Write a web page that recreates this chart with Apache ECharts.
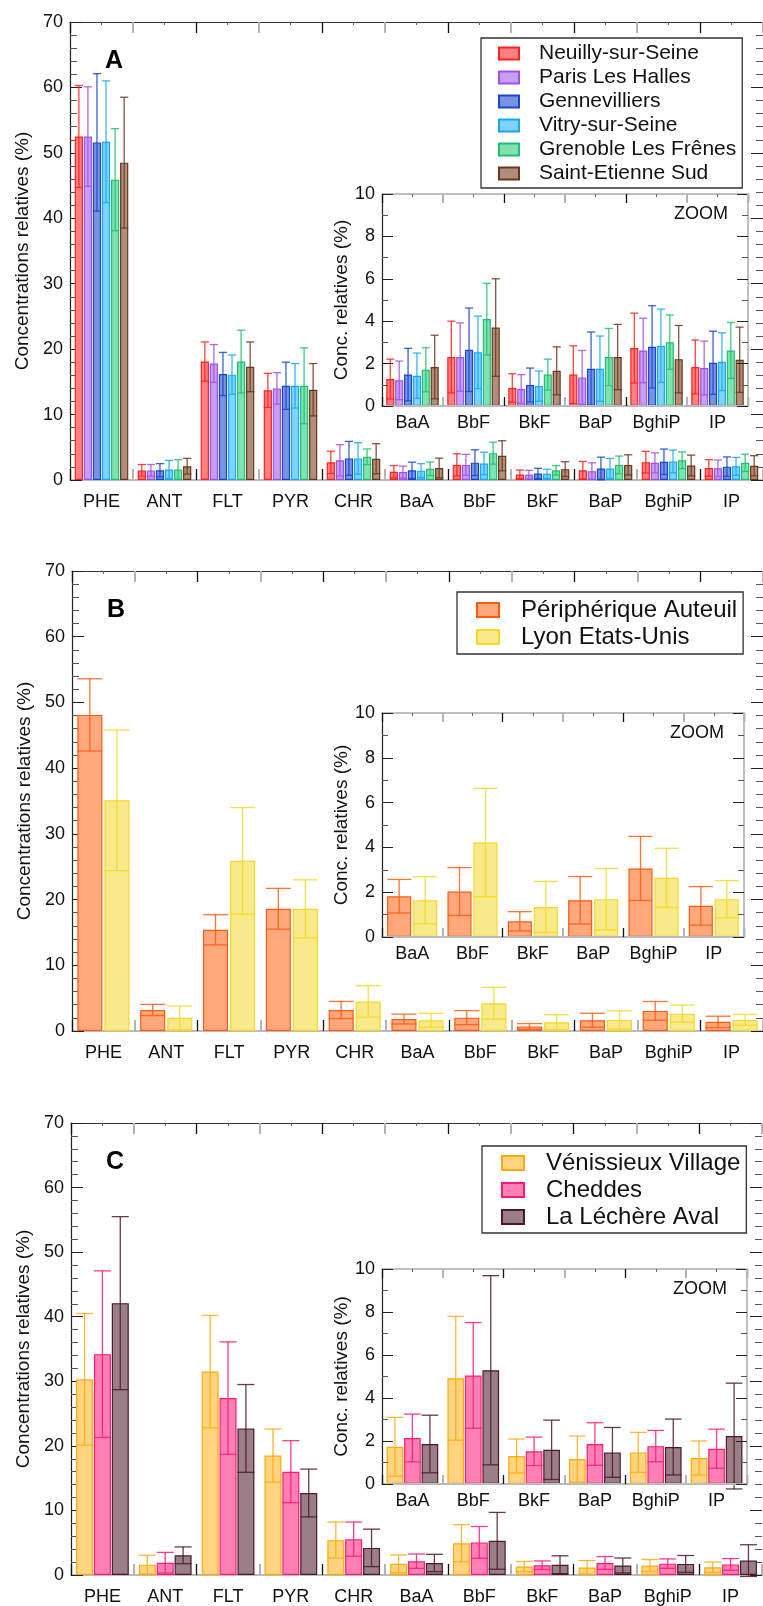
<!DOCTYPE html>
<html>
<head>
<meta charset="utf-8">
<script src="https://cdn.jsdelivr.net/npm/echarts@6/dist/echarts.min.js"></script>
<style>
  html, body { margin: 0; padding: 0; background: #fff; }
  #chart { width: 763px; height: 1606px; }
</style>
</head>
<body>
<div id="chart"></div>
<script>
// PAH profiles, relative concentrations (%) : mean and standard deviation per site
const categories = ["PHE", "ANT", "FLT", "PYR", "CHR", "BaA", "BbF", "BkF", "BaP", "BghiP", "IP"];
const zoomCategories = categories.slice(5);
const yTicksMain = [0, 10, 20, 30, 40, 50, 60, 70];
const yTicksZoom = [0, 2, 4, 6, 8, 10];

// panel A
const neuillyMean = [52.5, 1.47, 18.1, 13.7, 2.7, 1.27, 2.31, 0.85, 1.48, 2.73, 1.84];
const neuillyErr = [7.8, 0.9, 3.0, 2.6, 1.7, 0.94, 1.69, 0.67, 1.36, 1.65, 1.27];
const parisMean = [52.5, 1.47, 17.8, 14.0, 3.0, 1.21, 2.31, 0.80, 1.35, 2.62, 1.79];
const parisErr = [7.6, 0.9, 2.9, 2.4, 2.4, 0.91, 1.61, 0.68, 1.27, 1.52, 1.27];
const gennevilliersMean = [51.6, 1.5, 16.2, 14.4, 3.3, 1.48, 2.65, 0.99, 1.76, 2.79, 2.04];
const gennevilliersErr = [10.5, 1.0, 3.3, 3.6, 2.6, 1.24, 1.97, 0.80, 1.73, 1.94, 1.49];
const vitryMean = [51.7, 1.6, 16.1, 14.4, 3.3, 1.43, 2.53, 0.94, 1.76, 2.84, 2.09];
const vitryErr = [9.3, 1.4, 3.0, 3.4, 2.4, 1.07, 1.71, 0.71, 1.54, 1.73, 1.36];
const grenobleMean = [45.9, 1.6, 18.1, 14.4, 3.55, 1.71, 4.1, 1.48, 2.31, 3.01, 2.62];
const grenobleErr = [7.8, 1.5, 4.8, 5.8, 1.2, 1.04, 1.69, 0.73, 1.35, 1.28, 1.32];
const stEtienneMean = [48.5, 2.1, 17.3, 13.8, 3.25, 1.84, 3.7, 1.66, 2.31, 2.21, 2.18];
const stEtienneErr = [10.0, 1.2, 3.8, 4.0, 2.3, 1.5, 2.3, 1.13, 1.54, 1.59, 1.54];

// panel B
const auteuilMean = [48.1, 3.2, 15.4, 18.6, 3.2, 1.82, 2.03, 0.70, 1.64, 3.06, 1.39];
const auteuilErr = [5.5, 0.85, 2.3, 3.1, 1.3, 0.75, 1.07, 0.43, 1.06, 1.43, 0.86];
const lyonMean = [35.1, 2.0, 25.9, 18.6, 4.5, 1.64, 4.22, 1.34, 1.69, 2.64, 1.69];
const lyonErr = [10.7, 1.8, 8.1, 4.4, 2.4, 1.05, 2.42, 1.14, 1.37, 1.32, 0.83];

// panel C
const venissieuxMean = [30.3, 1.6, 31.5, 18.5, 5.4, 1.73, 4.92, 1.30, 1.16, 1.47, 1.21];
const venissieuxErr = [10.2, 1.45, 8.7, 4.1, 2.8, 1.37, 2.88, 0.79, 1.07, 0.93, 0.79];
const cheddesMean = [34.2, 1.9, 27.4, 16.0, 5.55, 2.14, 5.05, 1.52, 1.86, 1.76, 1.64];
const cheddesErr = [12.9, 1.6, 8.7, 4.8, 2.65, 1.11, 2.46, 0.66, 0.99, 0.73, 0.91];
const lechereMean = [42.1, 3.05, 22.7, 12.7, 4.2, 1.86, 5.29, 1.59, 1.47, 1.72, 2.23];
const lechereErr = [13.4, 1.3, 6.8, 3.7, 2.9, 1.34, 4.4, 1.38, 1.16, 1.3, 2.46];

const FONT = "Liberation Sans";

const panels = [
  {
    letter: "A",
    main: { left: 70, top: 22, width: 693, height: 458, catGap: 0.15, barGap: 0.1 },
    zoom: { left: 382, top: 194, width: 366, height: 212, catGap: 0.14, barGap: 0.1 },
    legend: { left: 481, top: 38, padding: [5, 6, 4, 17], itemWidth: 20, itemHeight: 12, fontSize: 21, itemGap: 3, textPad: 15 },
    sites: [
      { name: "Neuilly-sur-Seine", mean: neuillyMean, err: neuillyErr, fill: "#ff8080", line: "#ff2020" },
      { name: "Paris Les Halles", mean: parisMean, err: parisErr, fill: "#c69ff0", line: "#a050ea" },
      { name: "Gennevilliers", mean: gennevilliersMean, err: gennevilliersErr, fill: "#7894de", line: "#1a44d0" },
      { name: "Vitry-sur-Seine", mean: vitryMean, err: vitryErr, fill: "#80d2ff", line: "#18a8f2" },
      { name: "Grenoble Les Frênes", mean: grenobleMean, err: grenobleErr, fill: "#80e2b2", line: "#1ec070" },
      { name: "Saint-Etienne Sud", mean: stEtienneMean, err: stEtienneErr, fill: "#b08e7c", line: "#6a361c" }
    ]
  },
  {
    letter: "B",
    main: { left: 72, top: 571, width: 691, height: 460, catGap: 0.17, barGap: 0.08 },
    zoom: { left: 382, top: 713, width: 362, height: 224, catGap: 0.17, barGap: 0.08 },
    legend: { left: 457, top: 592, padding: [6, 6, 5, 19], itemWidth: 22, itemHeight: 14, fontSize: 24, itemGap: 3, textPad: 17 },
    sites: [
      { name: "Périphérique Auteuil", mean: auteuilMean, err: auteuilErr, fill: "#ffa87c", line: "#ff5a10" },
      { name: "Lyon Etats-Unis", mean: lyonMean, err: lyonErr, fill: "#f8e98a", line: "#f8d820" }
    ]
  },
  {
    letter: "C",
    main: { left: 71, top: 1123, width: 691, height: 459, catGap: 0.16, barGap: 0.05 },
    zoom: { left: 382, top: 1269, width: 365, height: 215, catGap: 0.15, barGap: 0.05 },
    legend: { left: 482, top: 1146, padding: [5, 6, 4, 19], itemWidth: 22, itemHeight: 14, fontSize: 24, itemGap: 3, textPad: 17 },
    sites: [
      { name: "Vénissieux Village", mean: venissieuxMean, err: venissieuxErr, fill: "#ffd47e", line: "#ffaa10" },
      { name: "Cheddes", mean: cheddesMean, err: cheddesErr, fill: "#ff80b4", line: "#ff1a78" },
      { name: "La Léchère Aval", mean: lechereMean, err: lechereErr, fill: "#9a7e88", line: "#4a1a2a" }
    ]
  }
];

const grids = [], xAxes = [], yAxes = [], series = [], legends = [], graphics = [];

function addGrid(g, cats, isZoom, ticks) {
  const gi = grids.length;
  grids.push({ left: g.left, top: g.top, width: g.width, height: g.height, show: isZoom, backgroundColor: "#fff", borderWidth: 0, z: isZoom ? 5 : 0 });
  const tickLen = isZoom ? 9 : 11;
  const axisZ = isZoom ? 8 : 0;
  const base = { type: "category", gridIndex: gi, data: cats, boundaryGap: true, z: axisZ };
  const bottomIndex = xAxes.length;
  // bottom axis: labels, black ticks on even boundaries
  xAxes.push(Object.assign({}, base, {
    position: "bottom",
    axisLine: { show: true, lineStyle: { color: "#bbb", width: 2 } },
    axisTick: { show: true, inside: true, length: tickLen, interval: (i) => i % 2 === 0, lineStyle: { color: "#111", width: 1.3 } },
    axisLabel: { show: true, margin: isZoom ? 8 : 13, fontSize: 18, color: "#111", fontFamily: FONT, interval: 0 }
  }));
  // bottom axis: gray ticks on odd boundaries
  xAxes.push(Object.assign({}, base, {
    position: "bottom",
    axisLine: { show: false },
    axisTick: { show: true, inside: true, length: tickLen, interval: (i) => i % 2 === 1, lineStyle: { color: "#b4b4b4", width: 2 } },
    axisLabel: { show: false }
  }));
  // top axis, black / gray boundary ticks
  xAxes.push(Object.assign({}, base, {
    position: "top",
    axisLine: { show: true, lineStyle: { color: isZoom ? "#aaa" : "#333", width: isZoom ? 1.5 : 1 } },
    axisTick: { show: true, inside: true, length: tickLen, interval: (i) => i % 2 === 0, lineStyle: { color: "#111", width: 1.3 } },
    axisLabel: { show: false }
  }));
  xAxes.push(Object.assign({}, base, {
    position: "top",
    axisLine: { show: false },
    axisTick: { show: true, inside: true, length: tickLen, interval: (i) => i % 2 === 1, lineStyle: { color: "#b4b4b4", width: 2 } },
    axisLabel: { show: false }
  }));
  // tiny ticks at category centres on top
  xAxes.push(Object.assign({}, base, {
    position: "top",
    axisLine: { show: false },
    axisTick: { show: true, inside: true, length: 3, alignWithLabel: true, lineStyle: { color: "#666" } },
    axisLabel: { show: false }
  }));

  const max = ticks[ticks.length - 1];
  const interval = ticks[1] - ticks[0];
  const yLeftIndex = yAxes.length;
  yAxes.push({
    type: "value", gridIndex: gi, position: "left", min: ticks[0], max: max, interval: interval, z: axisZ,
    name: isZoom ? "Conc. relatives (%)" : "Concentrations relatives (%)",
    nameLocation: "middle", nameRotate: 90, nameGap: isZoom ? 30 : 38,
    nameTextStyle: { fontSize: 19, color: "#111", fontFamily: FONT },
    axisLine: { show: true, lineStyle: { color: "#222", width: 1.2 } },
    axisTick: { show: true, inside: true, length: isZoom ? 11 : 12, lineStyle: { color: "#222" } },
    minorTick: { show: true, splitNumber: isZoom ? 2 : 5, length: isZoom ? 6 : 7, lineStyle: { color: "#555" } },
    splitLine: { show: false },
    axisLabel: { margin: 7, fontSize: 18, color: "#111", fontFamily: FONT }
  });
  yAxes.push({
    type: "value", gridIndex: gi, position: "right", min: ticks[0], max: max, interval: interval, z: axisZ,
    axisLine: { show: isZoom, lineStyle: { color: "#aaa", width: 1.5 } },
    axisTick: { show: true, inside: true, length: isZoom ? 11 : 12, lineStyle: { color: "#222" } },
    minorTick: { show: true, splitNumber: isZoom ? 2 : 5, length: isZoom ? 6 : 7, lineStyle: { color: "#555" } },
    splitLine: { show: false },
    axisLabel: { show: false }
  });
  return { xi: bottomIndex, yi: yLeftIndex, z: isZoom ? 6 : 2 };
}

function errorRenderer(n, k, catGap, barGap, color) {
  return function (params, api) {
    const ci = api.value(0), m = api.value(1), e = api.value(2);
    const band = api.size([1, 0])[0];
    const groupW = band * (1 - catGap);
    const w = groupW / (n + (n - 1) * barGap);
    const c = api.coord([ci, m]);
    const x = c[0] - groupW / 2 + k * w * (1 + barGap) + w / 2;
    const top = api.coord([ci, m + e])[1];
    const bot = api.coord([ci, m - e])[1];
    const half = w / 2;
    const style = { stroke: color, lineWidth: 1.3, opacity: 0.85 };
    return {
      type: "group",
      children: [
        { type: "line", shape: { x1: x, y1: top, x2: x, y2: bot }, style: style },
        { type: "line", shape: { x1: x - half, y1: top, x2: x + half, y2: top }, style: style },
        { type: "line", shape: { x1: x - half, y1: bot, x2: x + half, y2: bot }, style: style }
      ]
    };
  };
}

function addSeries(p, g, axes, from) {
  const n = p.sites.length;
  p.sites.forEach((s, k) => {
    const vals = s.mean.slice(from);
    const errs = s.err.slice(from);
    series.push({
      type: "bar", name: s.name, xAxisIndex: axes.xi, yAxisIndex: axes.yi,
      data: vals, barCategoryGap: (g.catGap * 100) + "%", barGap: (g.barGap * 100) + "%",
      itemStyle: { color: s.fill, borderColor: s.line, borderWidth: 1.2 },
      z: axes.z, silent: true, animation: false
    });
    series.push({
      type: "custom", name: s.name + " err", xAxisIndex: axes.xi, yAxisIndex: axes.yi,
      data: vals.map((v, i) => [i, v, errs[i]]),
      renderItem: errorRenderer(n, k, g.catGap, g.barGap, s.line),
      encode: { x: 0, y: 1 }, z: axes.z + 1, silent: true, animation: false, clip: false
    });
  });
}

panels.forEach((p) => {
  const mainAxes = addGrid(p.main, categories, false, yTicksMain);
  addSeries(p, p.main, mainAxes, 0);
  const zoomAxes = addGrid(p.zoom, zoomCategories, true, yTicksZoom);
  addSeries(p, p.zoom, zoomAxes, 5);

  const L = p.legend;
  legends.push({
    data: p.sites.map((s) => s.name), orient: "vertical", left: L.left, top: L.top,
    padding: L.padding, itemWidth: L.itemWidth, itemHeight: L.itemHeight, itemGap: L.itemGap,
    icon: "rect", borderColor: "#333", borderWidth: 1.3, backgroundColor: "#fff",
    selectedMode: false, z: 10,
    textStyle: { fontSize: L.fontSize, color: "#111", fontFamily: FONT, padding: [0, 0, 0, L.textPad] }
  });

  graphics.push({
    type: "text", left: p.main.left + 35, top: p.main.top + 27, z: 20,
    style: { text: p.letter, font: "bold 25px " + FONT, fill: "#000" }
  });
  graphics.push({
    type: "text", right: 763 - (p.zoom.left + p.zoom.width) + 20, top: p.zoom.top + 11, z: 20,
    style: { text: "ZOOM", font: "18px " + FONT, fill: "#111" }
  });
});

const chart = echarts.init(document.getElementById("chart"), null, { renderer: "canvas" });
chart.setOption({
  animation: false,
  backgroundColor: "#fff",
  grid: grids,
  xAxis: xAxes,
  yAxis: yAxes,
  legend: legends,
  graphic: graphics,
  series: series
});
</script>
</body>
</html>
